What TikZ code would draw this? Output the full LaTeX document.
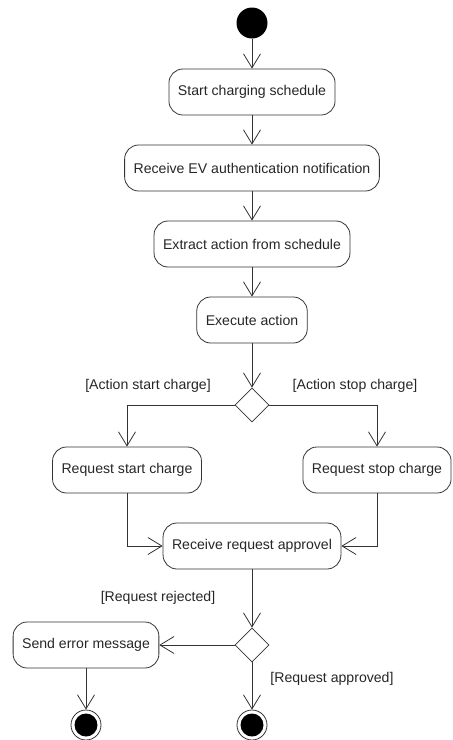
\documentclass[tikz,border=0pt]{standalone}
\usepackage{fontspec}
\setmainfont{Liberation Sans}
\usetikzlibrary{
    arrows.meta,
    shapes,
    positioning,
    calc
}

\begin{document}
\begin{tikzpicture}[x=1pt, y=1pt, font=\fontsize{14.1}{16}\selectfont,
        line width=.8pt, draw=black!80, text=black!85,
        >={Straight Barb[length=14pt, width=17pt]},
        act/.style={
            % The shape:
            rectangle, rounded corners=14pt,
            % The size:
            minimum height=46pt, inner xsep=9pt,
            % The border
            draw=black!80},
        choice/.style={diamond, draw=black!80, minimum size=34pt, inner sep=0pt},
        initial/.style={circle, fill=black, minimum size=31pt, inner sep=0pt},
        final/.style={circle, draw=black!80, minimum size=30pt, inner sep=0pt,
            path picture={\fill[black] (path picture bounding box.center) circle (11.5pt);}},
        guard/.style={inner sep=0pt}]
        \useasboundingbox (0,0) rectangle (453,-740);

        % main sequence
        \node [initial] (start) at (252,-23) {};
        \node [act] (schedule) at (252,-92) {Start charging schedule};
        \node [act] (auth) at (252,-168) {Receive EV authentication notification};
        \node [act] (extract) at (252,-244) {Extract action from schedule};
        \node [act] (execute) at (252,-320) {Execute action};
        \node [choice] (which) at (252,-405) {};

        % the two branches
        \node [act] (startreq) at (127,-470) {Request start charge};
        \node [act] (stopreq) at (377,-470) {Request stop charge};
        \node [act] (approval) at (252,-546) {Receive request approvel};
        \node [choice] (result) at (252,-645) {};
        \node [act] (error) at (86,-645) {Send error message};
        \node [final] (enderr) at (86,-725) {};
        \node [final] (endok) at (252,-725) {};

        % guards
        \node [guard] (gstart) at (148,-386) {[Action start charge]};
        \node [guard] (gstop) at (355,-386) {[Action stop charge]};
        \node [guard] (grej) at (158,-598) {[Request rejected]};
        \node [guard] (gok) at (332,-679) {[Request approved]};

        \draw [->] (start) -- (schedule);
        \draw [->] (schedule) -- (auth);
        \draw [->] (auth) -- (extract);
        \draw [->] (extract) -- (execute);
        \draw [->] (execute) -- (which);
        \draw [->] (which.west) -| (startreq.north);
        \draw [->] (which.east) -| (stopreq.north);
        \draw [->] (startreq.south) |- (approval.west);
        \draw [->] (stopreq.south) |- (approval.east);
        \draw [->] (approval) -- (result);
        \draw [->] (result.west) -- (error.east);
        \draw [->] (result.south) -- (endok);
        \draw [->] (error) -- (enderr);

\end{tikzpicture}
\end{document}
